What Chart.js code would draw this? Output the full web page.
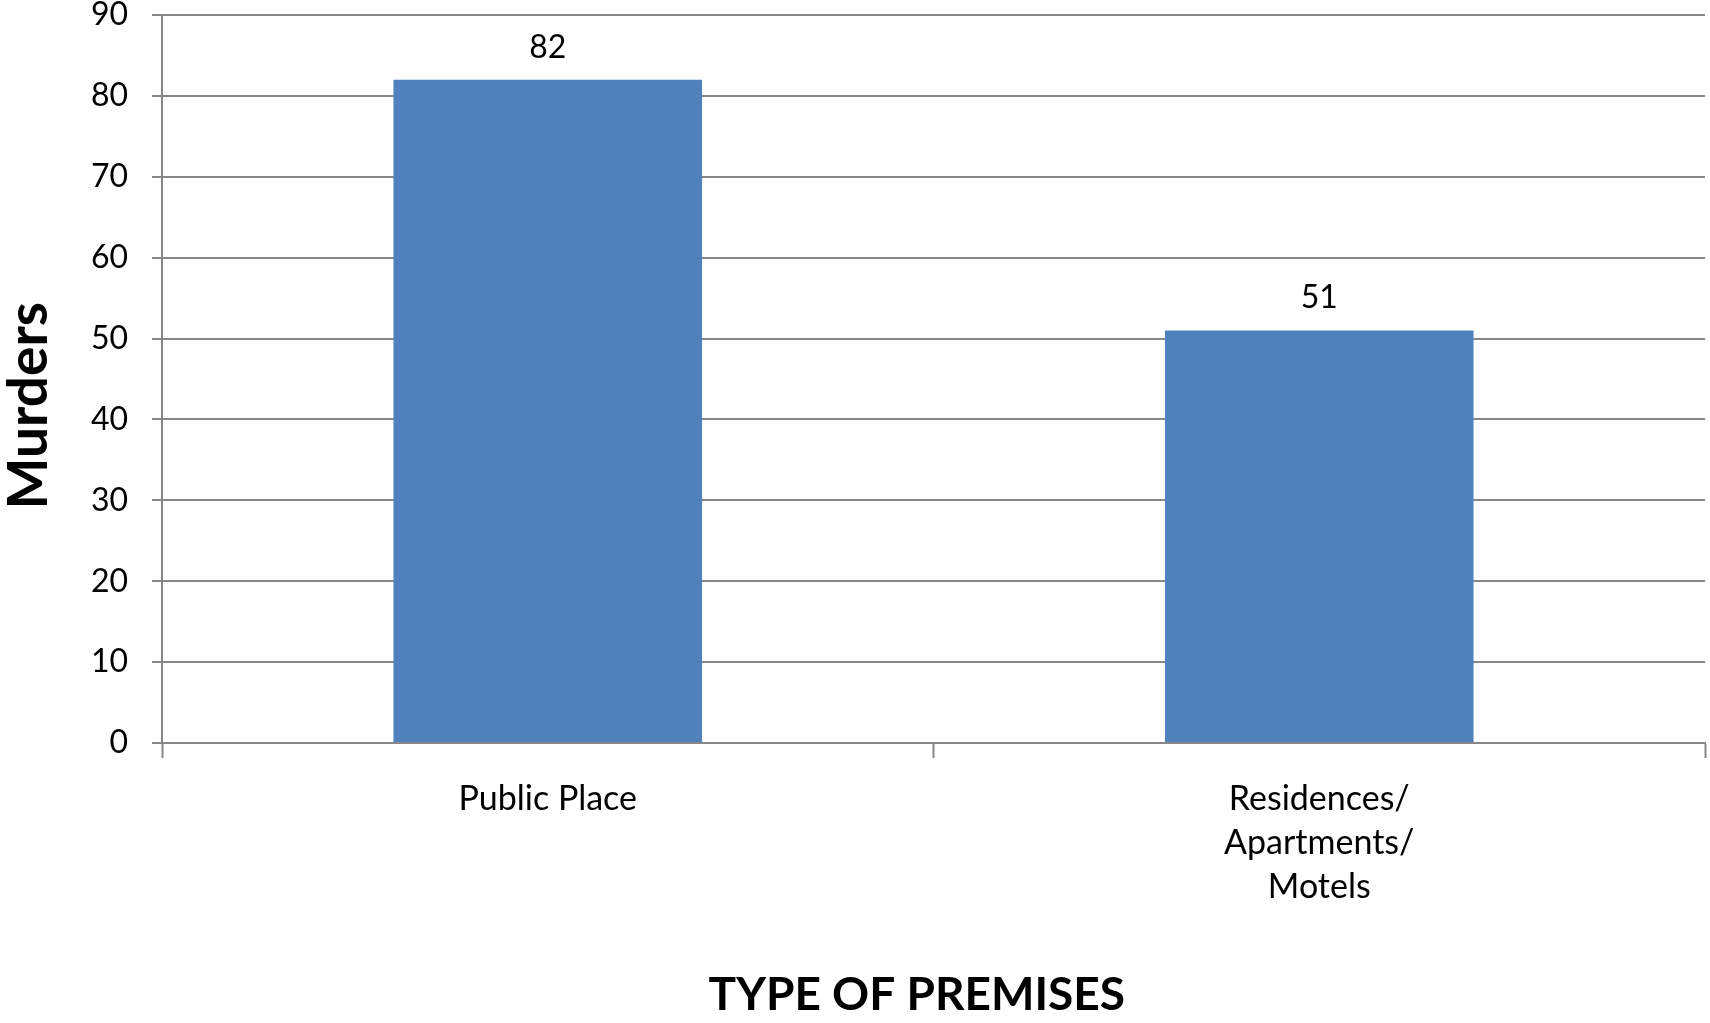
<!DOCTYPE html>
<html>
<head>
<meta charset="utf-8">
<title>Murders by type of premises</title>
<script src="https://cdn.jsdelivr.net/npm/chart.js@4/dist/chart.umd.min.js"></script>
<style>
    html, body { margin: 0; padding: 0; background: #fff; overflow: hidden; }
    #wrap { width: 1710px; height: 1023px; position: relative; }
</style>
</head>
<body>
<div id="wrap"><canvas id="premisesChart"></canvas></div>
<script>
// data
const categories = [
    ['Public Place'],
    ['Residences/', 'Apartments/', 'Motels']
];
const murders = [82, 51];
const yMin = 0;
const yMax = 90;
const yStep = 10;

const gridGray = '#878787';

// draws the value above each bar, using the bar elements Chart.js placed
const barValueLabels = {
    id: 'barValueLabels',
    afterDatasetsDraw(chart) {
        const ctx = chart.ctx;
        ctx.save();
        ctx.font = '32px Lato';
        ctx.fillStyle = '#000';
        ctx.textAlign = 'center';
        ctx.textBaseline = 'alphabetic';
        chart.getDatasetMeta(0).data.forEach(function (bar, i) {
            ctx.fillText(String(murders[i]), bar.x, bar.y - 22);
        });
        ctx.restore();
    }
};

document.addEventListener('DOMContentLoaded', function () {
    const ctx = document.getElementById('premisesChart').getContext('2d');

    new Chart(ctx, {
        type: 'bar',
        data: {
            labels: categories,
            datasets: [{
                label: 'Murders',
                data: murders,
                backgroundColor: '#4F81BD',
                borderWidth: 0,
                barPercentage: 0.4,
                categoryPercentage: 1
            }]
        },
        options: {
            responsive: true,
            maintainAspectRatio: false,
            animation: false,
            layout: {
                padding: { left: 0, right: 5, top: 15, bottom: 0 }
            },
            plugins: {
                legend: { display: false },
                tooltip: { enabled: false }
            },
            scales: {
                x: {
                    offset: true,
                    grid: {
                        offset: true,
                        drawOnChartArea: false,
                        drawTicks: true,
                        tickLength: 15,
                        tickWidth: 2,
                        tickColor: gridGray
                    },
                    border: { color: gridGray, width: 2 },
                    ticks: {
                        color: '#000',
                        padding: 19,
                        maxRotation: 0,
                        font: { family: 'Lato', size: 34, lineHeight: 1.29 }
                    },
                    title: {
                        display: true,
                        // trailing spaces nudge the centred title a little left, as in the original
                        text: 'TYPE OF PREMISES   ',
                        color: '#000',
                        padding: 0,
                        font: { family: 'Lato', size: 46, weight: 'bold', lineHeight: 1.2 }
                    },
                    afterFit: function (scale) {
                        scale.height = 280;
                        scale.paddingLeft = 0;
                        scale.paddingRight = 0;
                    }
                },
                y: {
                    min: yMin,
                    max: yMax,
                    grid: {
                        color: gridGray,
                        lineWidth: 2,
                        drawTicks: true,
                        tickLength: 10,
                        tickColor: gridGray
                    },
                    border: { color: gridGray, width: 2 },
                    ticks: {
                        stepSize: yStep,
                        color: '#000',
                        padding: 24,
                        font: { family: 'Lato', size: 32 }
                    },
                    title: {
                        display: true,
                        text: 'Murders    ',
                        color: '#000',
                        padding: 0,
                        font: { family: 'Lato', size: 55, weight: 'bold', lineHeight: 1.05 }
                    },
                    afterFit: function (scale) {
                        scale.width = 162;
                        scale.paddingTop = 0;
                        scale.paddingBottom = 0;
                    }
                }
            }
        },
        plugins: [barValueLabels]
    });
});
</script>
</body>
</html>
